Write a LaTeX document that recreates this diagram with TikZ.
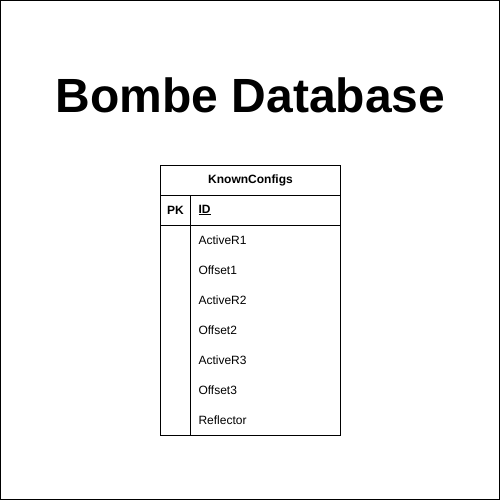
\documentclass[tikz,border=0pt]{standalone}
\usepackage{fontspec}
\setmainfont{Liberation Sans}
\usetikzlibrary{positioning}
\tikzstyle{fTitle} = [font=\fontsize{48}{58}\selectfont\bfseries, inner sep=0pt]
\tikzstyle{fCell} = [rectangle, draw=black, line width=1pt, minimum height=30pt, inner sep=0pt, outer sep=0pt, font=\fontsize{12}{14}\selectfont]
\tikzstyle{fField} = [rectangle, minimum height=30pt, text width=134pt, inner xsep=8pt, inner ysep=0pt, outer sep=0pt, align=left, font=\fontsize{12}{14}\selectfont]

\begin{document}
\begin{tikzpicture}[x=1pt, y=1pt]
    \useasboundingbox (0,0) rectangle (501,-501);
    \draw [line width=1pt] (0.5,-0.5) rectangle (499.5,-499.5);

    \node (title) [fTitle] at (250.5,-95) {Bombe Database};

    \node (header) [fCell, minimum width=180pt] at (250.5,-180) {\bfseries KnownConfigs};
    \node (pkCell) [fCell, minimum width=30pt, anchor=north west] at (header.south west) {\bfseries PK};
    \node (idCell) [fCell, minimum width=150pt, text width=134pt, inner xsep=8pt, align=left, anchor=north west] at (pkCell.north east) {\bfseries\underline{ID}};

    \node (activeROne) [fField, below=0pt of idCell.south west, anchor=north west] {ActiveR1};
    \node (offsetOne) [fField, below=0pt of activeROne] {Offset1};
    \node (activeRTwo) [fField, below=0pt of offsetOne] {ActiveR2};
    \node (offsetTwo) [fField, below=0pt of activeRTwo] {Offset2};
    \node (activeRThree) [fField, below=0pt of offsetTwo] {ActiveR3};
    \node (offsetThree) [fField, below=0pt of activeRThree] {Offset3};
    \node (reflector) [fField, below=0pt of offsetThree] {Reflector};

    \draw [line width=1pt] (pkCell.south west) rectangle (idCell.east |- reflector.south);
    \draw [line width=1pt] (pkCell.south east) -- (pkCell.south east |- reflector.south);
\end{tikzpicture}
\end{document}
